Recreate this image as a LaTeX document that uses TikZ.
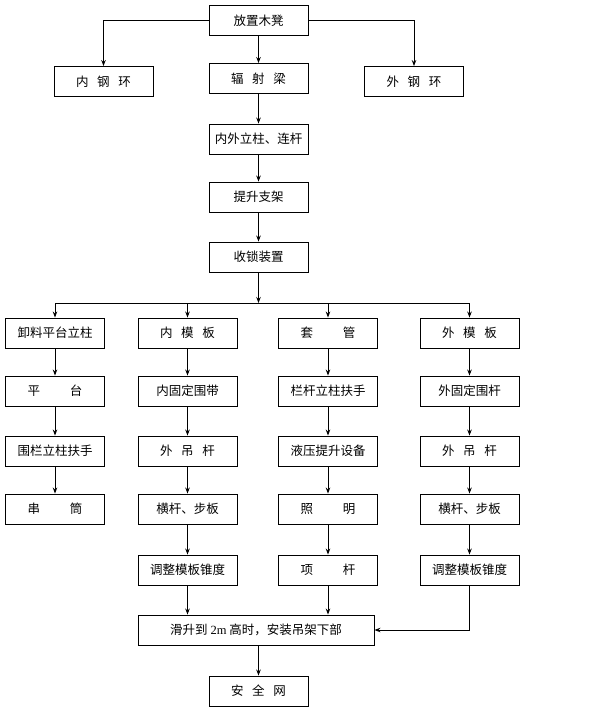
\documentclass[tikz,border=0pt]{standalone}
\usepackage{fontspec}
\setmainfont{Noto Sans CJK SC}
\newfontfamily\latin{Liberation Serif}
\usetikzlibrary{arrows.meta}

\tikzset{
    box/.style={draw, line width=0.9pt, minimum width=99pt, minimum height=30pt,
        inner sep=1pt, font=\fontsize{12.5pt}{14pt}\selectfont},
    flow/.style={line width=0.9pt, -{Stealth[length=6pt,width=4.5pt]}}
}
\newcommand{\gap}{\hspace{0.7em}}
\newcommand{\wgap}{\hspace{2.4em}}

\begin{document}
\begin{tikzpicture}[x=1pt,y=-1pt]
    \useasboundingbox (0,0) rectangle (594,715);

    % top part
    \node[box] (fang) at (258.5,20.5) {放置木凳};
    \node[box] (neihuan) at (103.5,81.5) {内\gap 钢\gap 环};
    \node[box] (fushe) at (258.5,78.5) {辐\gap 射\gap 梁};
    \node[box] (waihuan) at (414,81.5) {外\gap 钢\gap 环};
    \node[box] (lizhu) at (258.5,139) {内外立柱、连杆};
    \node[box] (zhijia) at (258.5,197) {提升支架};
    \node[box] (shousuo) at (258.5,257) {收锁装置};

    \draw[flow] (fang.west) -| (neihuan.north);
    \draw[flow] (fang.east) -| (waihuan.north);
    \draw[flow] (fang) -- (fushe);
    \draw[flow] (fushe) -- (lizhu);
    \draw[flow] (lizhu) -- (zhijia);
    \draw[flow] (zhijia) -- (shousuo);

    % four columns
    \node[box] (c1r1) at (55,333) {卸料平台立柱};
    \node[box] (c1r2) at (55,391) {平\wgap 台};
    \node[box] (c1r3) at (55,451) {围栏立柱扶手};
    \node[box] (c1r4) at (55,509) {串\wgap 筒};

    \node[box] (c2r1) at (187.5,333) {内\gap 模\gap 板};
    \node[box] (c2r2) at (187.5,391) {内固定围带};
    \node[box] (c2r3) at (187.5,451) {外\gap 吊\gap 杆};
    \node[box] (c2r4) at (187.5,509) {横杆、步板};
    \node[box] (c2r5) at (187.5,570) {调整模板锥度};

    \node[box] (c3r1) at (328,333) {套\wgap 管};
    \node[box] (c3r2) at (328,391) {栏杆立柱扶手};
    \node[box] (c3r3) at (328,451) {液压提升设备};
    \node[box] (c3r4) at (328,509) {照\wgap 明};
    \node[box] (c3r5) at (328,570) {项\wgap 杆};

    \node[box] (c4r1) at (469.5,333) {外\gap 模\gap 板};
    \node[box] (c4r2) at (469.5,391) {外固定围杆};
    \node[box] (c4r3) at (469.5,451) {外\gap 吊\gap 杆};
    \node[box] (c4r4) at (469.5,509) {横杆、步板};
    \node[box] (c4r5) at (469.5,570) {调整模板锥度};

    \coordinate (split) at (258.5,303);
    \draw[flow] (shousuo) -- (split);
    \foreach \c in {1,2,3,4}
        \draw[flow] (split) -| (c\c r1.north);

    \foreach \c/\n in {1/4,2/5,3/5,4/5}
        \foreach \r [remember=\r as \p (initially 1)] in {2,...,\n}
            \draw[flow] (c\c r\p) -- (c\c r\r);

    % bottom part
    \node[box, minimum width=236pt] (huasheng) at (256,630)
        {滑升到 {\latin 2m} 高时，安装吊架下部};
    \node[box] (anquan) at (258.5,691) {安\gap 全\gap 网};

    \draw[flow] (c2r5) -- (c2r5 |- huasheng.north);
    \draw[flow] (c3r5) -- (c3r5 |- huasheng.north);
    \draw[flow] (c4r5.south) |- (huasheng.east);
    \draw[flow] (huasheng.south -| anquan) -- (anquan);

\end{tikzpicture}
\end{document}
